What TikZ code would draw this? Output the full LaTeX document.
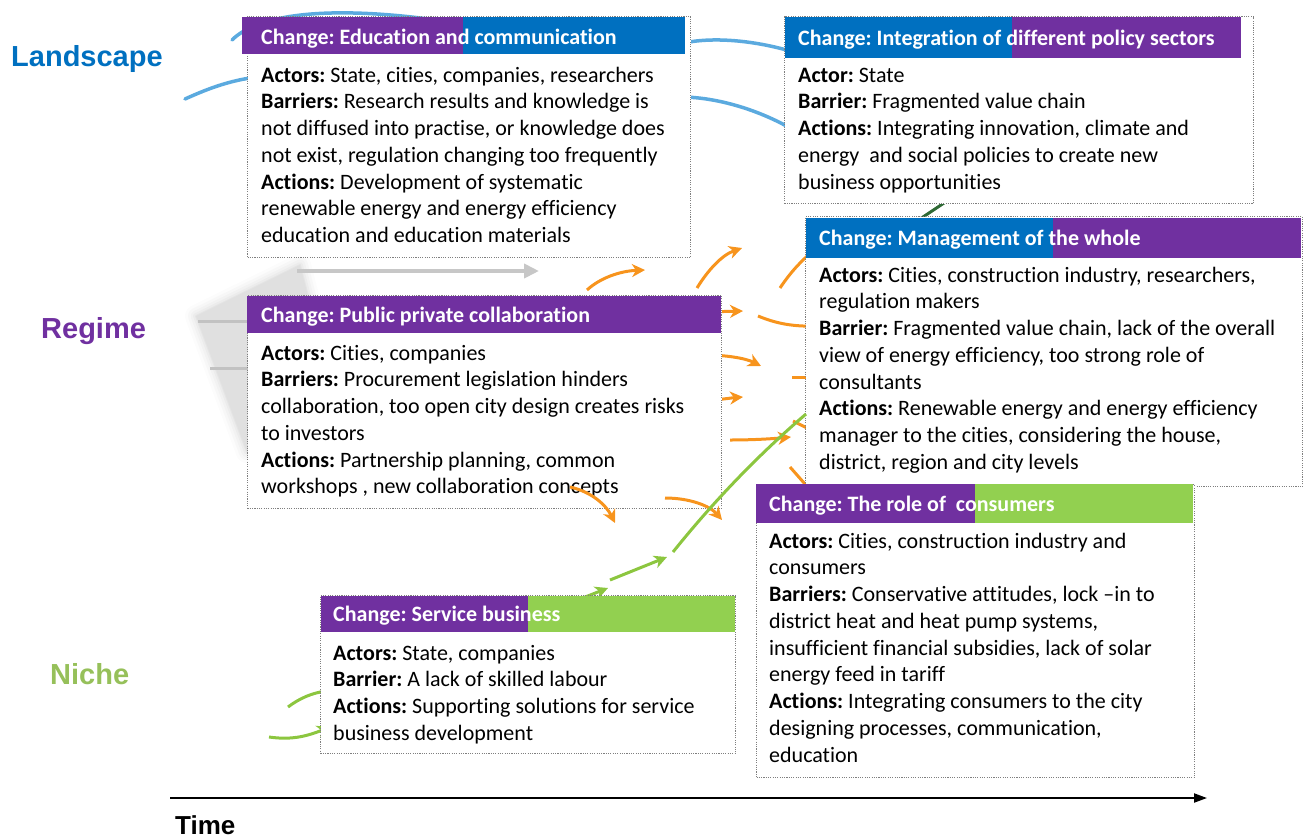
\documentclass[tikz,border=0pt]{standalone}
\usepackage{fontspec}
\setmainfont{Carlito}[Ligatures={NoCommon}]
\newfontfamily\levelfont{Liberation Sans}
\usetikzlibrary{arrows.meta}
\frenchspacing

\definecolor{cPurple}{HTML}{7030A0}
\definecolor{cBlue}{HTML}{0070C0}
\definecolor{cGreen}{HTML}{92D050}
\definecolor{cNiche}{HTML}{96C05A}
\definecolor{cOrange}{HTML}{F7941D}
\definecolor{cLink}{HTML}{5BAADF}
\definecolor{cGrow}{HTML}{8CC63F}
\definecolor{cDark}{HTML}{2F6A35}
\definecolor{cFrame}{HTML}{7F7F7F}

\begin{document}
\begin{tikzpicture}[x=1pt,y=-1pt,
  frame/.style={draw=cFrame, fill=white, line width=1.1pt,
    dash pattern=on 1.1pt off 1.2pt, inner sep=0pt, anchor=north west},
  bar/.style={inner sep=0pt, anchor=north west, draw=none},
  title/.style={font=\fontsize{22}{26.75}\selectfont\bfseries, text=white,
    anchor=base west, inner sep=0pt},
  body/.style={font=\fontsize{22}{26.75}\selectfont, anchor=base west, inner sep=0pt},
  level/.style={font=\levelfont\bfseries\fontsize{29}{32}\selectfont,
    anchor=base west, inner sep=0pt},
  link/.style={draw=cLink, line width=3.5pt, line cap=round},
  flow/.style={draw=cOrange, line width=3pt,
    -{Stealth[length=13pt,width=13pt,inset=4pt]}},
  flowline/.style={draw=cOrange, line width=3pt},
  greenflow/.style={draw=cGrow, line width=3pt,
    -{Stealth[length=13pt,width=13pt,inset=4pt]}},
  greenline/.style={draw=cGrow, line width=3pt},
]
\useasboundingbox (0,0) rectangle (1306,838);

% ---------- level labels ----------
\node[level, text=cBlue]   (landscape) at (11,66)  {Landscape};
\node[level, text=cPurple] (regime)    at (41,338) {Regime};
\node[level, text=cNiche]  (niche)     at (50,684) {Niche};

% ---------- faded background funnel ----------
\foreach \w/\o in {22/0.04,16/0.05,11/0.06,6/0.08,2/0.10}{
  \draw[black!35, opacity=\o, line width=\w pt, line join=round]
    (300,265) -- (196,316) -- (247,452) -- (330,452) -- (308,296) -- cycle;
}
\fill[black!12] (300,265) -- (196,316) -- (247,452) -- (330,452) -- (308,296) -- cycle;
\coordinate (f1a) at (198,321); \coordinate (f1b) at (250,321);
\coordinate (f2a) at (210,368); \coordinate (f2b) at (250,368);
\draw[black!24, line width=3pt] (f1a) -- (f1b);
\draw[black!24, line width=3pt] (f2a) -- (f2b);
\coordinate (ga) at (297,271); \coordinate (gb) at (539,271);
\draw[black!22, line width=4pt, -{Triangle[length=15pt,width=14pt]}] (ga) -- (gb);

% ---------- free ends of the connectors ----------
\coordinate (l1a) at (185,99);  \coordinate (l1b) at (250,78);
\coordinate (l2a) at (232,40);  \coordinate (l2b) at (450,22);
\coordinate (l3a) at (684,43);  \coordinate (l3b) at (790,51);
\coordinate (l4a) at (684,97);  \coordinate (l4b) at (790,128);
\coordinate (dka) at (920,219); \coordinate (dkb) at (947,201);

\coordinate (oa1) at (587,290); \coordinate (oa2) at (645,270);
\coordinate (ob1) at (697,288); \coordinate (ob2) at (742,248);
\coordinate (oc1) at (780,288); \coordinate (oc2) at (814,250);
\coordinate (od1) at (705,312); \coordinate (od2) at (743,311);
\coordinate (oe1) at (758,316); \coordinate (oe2) at (818,326);
\coordinate (of1) at (705,355); \coordinate (of2) at (761,366);
\coordinate (og1) at (792,377); \coordinate (og2) at (815,377);
\coordinate (oh1) at (705,400); \coordinate (oh2) at (743,397);
\coordinate (oi1) at (730,440); \coordinate (oi2) at (791,437);
\coordinate (oj1) at (793,421); \coordinate (oj2) at (815,432);
\coordinate (ok1) at (790,467); \coordinate (ok2) at (812,492);
\coordinate (ol1) at (570,487); \coordinate (ol2) at (615,523);
\coordinate (om1) at (665,498); \coordinate (om2) at (722,520);

\coordinate (gn1) at (610,580); \coordinate (gn2) at (667,557);
\coordinate (go1) at (673,552); \coordinate (go2) at (806,414);
\coordinate (gp1) at (570,603); \coordinate (gp2) at (608,588);
\coordinate (gq1) at (288,707); \coordinate (gq2) at (326,691);
\coordinate (gr1) at (269,737); \coordinate (gr2) at (330,727);

% ---------- connectors passing behind the boxes ----------
\draw[link] (l1a) .. controls (205,90) and (225,82) .. (l1b);
\draw[link] (l2a) .. controls (258,14) and (330,4) .. (l2b);
\draw[link] (l3a) .. controls (712,37) and (752,40) .. (l3b);
\draw[link] (l4a) .. controls (722,98) and (762,112) .. (l4b);
\draw[cDark, line width=3pt] (dka) -- (dkb);

\draw[flow] (oa1) .. controls (600,278) and (620,271) .. (oa2);
\draw[flow] (ob1) .. controls (708,270) and (722,255) .. (ob2);
\draw[flowline] (oc1) .. controls (790,273) and (800,262) .. (oc2);
\draw[flow] (od1) -- (od2);
\draw[flowline] (oe1) .. controls (775,323) and (792,327) .. (oe2);
\draw[flow] (of1) .. controls (725,355) and (745,358) .. (of2);
\draw[flowline] (og1) -- (og2);
\draw[flow] (oh1) .. controls (720,400) and (730,398) .. (oh2);
\draw[flow] (oi1) .. controls (750,440) and (770,439) .. (oi2);
\draw[flowline] (oj1) -- (oj2);
\draw[flowline] (ok1) -- (ok2);

\draw[greenflow] (gp1) -- (gp2);
\draw[greenline] (gq1) .. controls (300,698) and (312,693) .. (gq2);
\draw[greenflow] (gr1) .. controls (290,740) and (305,737) .. (gr2);

% ---------- Landscape: education and communication ----------
\node[frame, minimum width=443, minimum height=241] (edu) at (247,16) {};
\node[bar, fill=cPurple, minimum width=221, minimum height=37] (eduL) at (242,17) {};
\node[bar, fill=cBlue,   minimum width=222, minimum height=37] (eduR) at (463,17) {};
\node[title] (eduT) at (261,44) {Change: Education and communication};
\node[body] (eduB) at (261,82) {\parbox[t]{440pt}{%
\textbf{Actors:} State, cities, companies, researchers\\
\textbf{Barriers:} Research results and knowledge is\\
not diffused into practise, or knowledge does\\
not exist, regulation changing too frequently\\
\textbf{Actions:} Development of systematic\\
renewable energy and energy efficiency\\
education and education materials}};

% ---------- Landscape: integration of policy sectors ----------
\node[frame, minimum width=469, minimum height=187] (pol) at (784,16) {};
\node[bar, fill=cBlue,   minimum width=227, minimum height=41] (polL) at (785,17) {};
\node[bar, fill=cPurple, minimum width=229, minimum height=41] (polR) at (1012,17) {};
\node[title] (polT) at (798,45) {Change: Integration of different policy sectors};
\node[body] (polB) at (798,82) {\parbox[t]{450pt}{%
\textbf{Actor:} State\\
\textbf{Barrier:} Fragmented value chain\\
\textbf{Actions:} Integrating innovation, climate and\\
energy\ \ and social policies to create new\\
business opportunities}};

% ---------- Regime: management of the whole ----------
\node[frame, minimum width=497, minimum height=270] (mgm) at (805,216) {};
\node[bar, fill=cBlue,   minimum width=247, minimum height=40] (mgmL) at (806,218) {};
\node[bar, fill=cPurple, minimum width=248, minimum height=40] (mgmR) at (1053,218) {};
\node[title] (mgmT) at (819,245) {Change: Management of the whole};
\node[body] (mgmB) at (819,282) {\parbox[t]{480pt}{%
\textbf{Actors:} Cities, construction industry, researchers,\\
regulation makers\\
\textbf{Barrier:} Fragmented value chain, lack of the overall\\
view of energy efficiency, too strong role of\\
consultants\\
\textbf{Actions:} Renewable energy and energy efficiency\\
manager to the cities, considering the house,\\
district, region and city levels}};

% ---------- Regime: public private collaboration ----------
\node[frame, minimum width=474, minimum height=213] (ppc) at (247,295) {};
\node[bar, fill=cPurple, minimum width=474, minimum height=37] (ppcH) at (247,296) {};
\node[title] (ppcT) at (261,322) {Change: Public private collaboration};
\node[body] (ppcB) at (261,360) {\parbox[t]{450pt}{%
\textbf{Actors:} Cities, companies\\
\textbf{Barriers:} Procurement legislation hinders\\
collaboration, too open city design creates risks\\
to investors\\
\textbf{Actions:} Partnership planning, common\\
workshops , new collaboration concepts}};

% ---------- Regime/Niche: the role of consumers ----------
\node[frame, minimum width=438, minimum height=293] (con) at (756,484) {};
\node[bar, fill=cPurple, minimum width=219, minimum height=39] (conL) at (756,484) {};
\node[bar, fill=cGreen,  minimum width=218, minimum height=39] (conR) at (975,484) {};
\node[title] (conT) at (769,511) {Change: The role of\ \ consumers};
\node[body] (conB) at (769,548) {\parbox[t]{420pt}{%
\textbf{Actors:} Cities, construction industry and\\
consumers\\
\textbf{Barriers:} Conservative attitudes, lock –in to\\
district heat and heat pump systems,\\
insufficient financial subsidies, lack of solar\\
energy feed in tariff\\
\textbf{Actions:} Integrating consumers to the city\\
designing processes, communication,\\
education}};

% ---------- Niche: service business ----------
\node[frame, minimum width=415, minimum height=158] (srv) at (320,595) {};
\node[bar, fill=cPurple, minimum width=207, minimum height=36] (srvL) at (321,596) {};
\node[bar, fill=cGreen,  minimum width=207, minimum height=36] (srvR) at (528,596) {};
\node[title] (srvT) at (333,621) {Change: Service business};
\node[body] (srvB) at (333,660) {\parbox[t]{400pt}{%
\textbf{Actors:} State, companies\\
\textbf{Barrier:} A lack of skilled labour\\
\textbf{Actions:} Supporting solutions for service\\
business development}};

% ---------- connectors drawn over the boxes ----------
\draw[flow] (ol1) .. controls (592,492) and (606,505) .. (ol2);
\draw[flow] (om1) .. controls (690,498) and (710,506) .. (om2);
\draw[greenflow] (gn1) -- (gn2);
\draw[greenline] (go1) .. controls (705,512) and (750,462) .. (go2);

% ---------- time axis ----------
\coordinate (t0) at (170,798);
\coordinate (t1) at (1207,798);
\draw[black, line width=2pt, -{Triangle[length=13pt,width=9pt]}] (t0) -- (t1);
\node[level, font=\levelfont\bfseries\fontsize{26}{30}\selectfont] (time) at (175,834) {Time};
\end{tikzpicture}
\end{document}
